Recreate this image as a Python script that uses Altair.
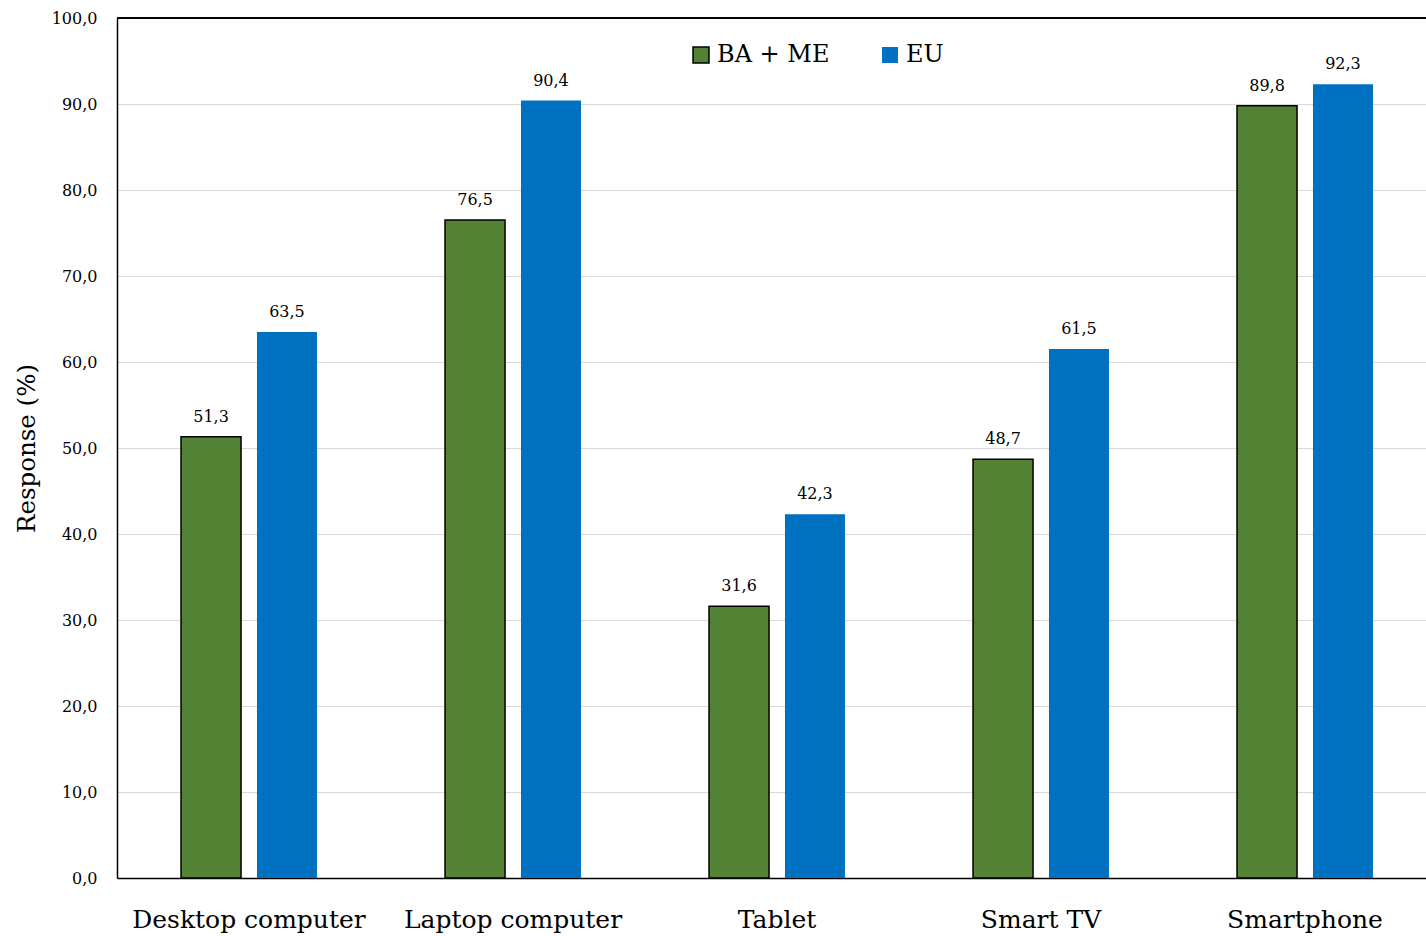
import altair as alt
import pandas as pd

categories = ["Desktop computer", "Laptop computer", "Tablet", "Smart TV", "Smartphone"]
series = ["BA + ME", "EU"]
ba_me = [51.3, 76.5, 31.6, 48.7, 89.8]
eu = [63.5, 90.4, 42.3, 61.5, 92.3]
y_ticks = [0, 10, 20, 30, 40, 50, 60, 70, 80, 90, 100]
colors = ["#548235", "#0070C0"]
strokes = ["black", "transparent"]

rows = []
for c, a, b in zip(categories, ba_me, eu):
    rows.append({"device": c, "series": series[0], "value": a})
    rows.append({"device": c, "series": series[1], "value": b})
df = pd.DataFrame(rows)

FONT = "DejaVu Serif"

x_enc = alt.X(
    "device:N",
    sort=categories,
    scale=alt.Scale(range=[0, 1320], paddingInner=0.485, paddingOuter=0.2425),
    axis=alt.Axis(
        title=None, labelAngle=0, labelFontSize=25, labelFont=FONT,
        labelColor="black", labelPadding=29, ticks=False, labelLimit=0,
        domainColor="black", domainWidth=1.5, grid=False,
    ),
)
xoff_enc = alt.XOffset("series:N", sort=series,
                       scale=alt.Scale(paddingInner=0.21, paddingOuter=0))
y_enc = alt.Y(
    "value:Q",
    scale=alt.Scale(domain=[0, 100], nice=False),
    axis=alt.Axis(
        values=y_ticks,
        labelExpr="replace(format(datum.value, '.1f'), '.', ',')",
        labelFont=FONT, labelFontSize=16, labelColor="black",
        labelPadding=20, ticks=False,
        gridColor="#d9d9d9", gridWidth=1,
        domainColor="black", domainWidth=1.5,
        title="Response (%)", titleFont=FONT, titleFontSize=24.5,
        titleFontWeight="normal", titleColor="black",
        titleX=-90, titleY=430, titleBaseline="middle",
    ),
)

legend = alt.Legend(
    orient="none", legendX=572, legendY=25, direction="horizontal",
    title=None, symbolType="square", symbolSize=256,
    labelFontSize=24, labelFont=FONT, labelColor="black",
    columnPadding=48, labelOffset=4, symbolStrokeWidth=1.5,
    symbolOpacity=1,
)

base = alt.Chart(df)

bars = base.mark_bar(strokeWidth=1.5).encode(
    x=x_enc,
    xOffset=xoff_enc,
    y=y_enc,
    color=alt.Color("series:N", sort=series,
                    scale=alt.Scale(domain=series, range=colors), legend=legend),
    stroke=alt.Stroke("series:N", sort=series,
                      scale=alt.Scale(domain=series, range=strokes), legend=legend),
)

labels = base.transform_calculate(
    label="replace(format(datum.value, '.1f'), '.', ',')"
).mark_text(baseline="bottom", dy=-12, font=FONT, fontSize=16, color="black").encode(
    x=alt.X("device:N", sort=categories),
    xOffset=alt.XOffset("series:N", sort=series),
    y=alt.Y("value:Q"),
    text="label:N",
)

top = alt.Chart(pd.DataFrame({"top": [100]})).mark_rule(
    color="black", strokeWidth=2
).encode(y="top:Q", x=alt.value(0), x2=alt.value(1320))

chart = alt.layer(bars, labels, top).properties(
    width=1309,
    height=860,
    autosize=alt.AutoSizeParams(type="none"),
    padding={"left": 117, "top": 18, "right": 0, "bottom": 58},
).configure_view(stroke=None)

chart.save("out.html", embed_options={"renderer": "svg", "actions": False})
